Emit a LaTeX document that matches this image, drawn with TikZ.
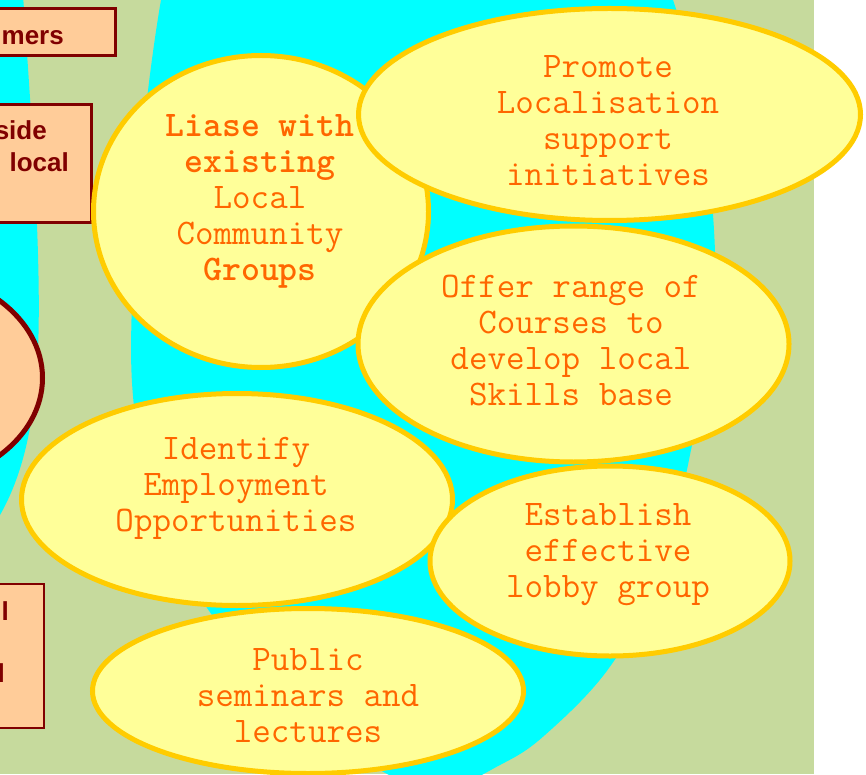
\documentclass[tikz,border=0pt]{standalone}
\usepackage{fontspec}
\usepackage{tikz}
\usepackage{xcolor}
\usetikzlibrary{shapes.geometric}
\setmainfont{Liberation Sans}
\definecolor{paleyellow}{HTML}{FFFF99}
\definecolor{goldline}{HTML}{FFCC00}
\definecolor{ideaorange}{HTML}{FF6600}
\definecolor{peach}{HTML}{FFCC99}
\definecolor{maroon}{HTML}{800000}
\definecolor{sage}{RGB}{198,218,157}
\definecolor{aqua}{HTML}{00FFFF}

\tikzset{
  idea/.style={ellipse, draw=goldline, fill=paleyellow, line width=5pt, inner sep=0pt},
  ideatext/.style={text=ideaorange, align=center, inner sep=0pt,
    font=\ttfamily\fontsize{36}{36}\selectfont},
  peachbox/.style={draw=maroon, fill=peach, inner sep=0pt},
  boxtext/.style={text=maroon, inner sep=0pt, anchor=base east,
    font=\bfseries\fontsize{26}{31}\selectfont},
}

\begin{document}
\begin{tikzpicture}[x=1pt, y=-1pt]
\useasboundingbox (0,0) rectangle (866,775);
\clip (0,0) rectangle (866,775);
\fill[white] (0,0) rectangle (866,775);
\fill[sage] (0,0) rectangle (814,774);

% cyan backdrops
\fill[aqua] plot[smooth cycle, tension=0.6] coordinates {
  (175,-60) (161,0) (147,99) (138,198) (132,300) (133,396) (150,500)
  (205,605) (290,705) (380,770) (440,790) (500,765) (545,735) (609,668)
  (660,575) (692,445) (712,320) (714,230) (700,110) (673,0) (640,-60) (420,-100)};
\fill[aqua] (-20,-20) -- (22,-20) .. controls (30,100) and (42,250) .. (38,350)
  .. controls (35,430) and (20,480) .. (0,515) -- (-20,515) -- cycle;

% shapes cut off at the left edge
\node[peachbox, line width=3pt, minimum width=145.5pt, minimum height=47pt] (farmers) at (42.75,32) {};
\node[peachbox, line width=3pt, minimum width=121.5pt, minimum height=118pt] (outside) at (30.75,163.5) {};
\node[peachbox, ellipse, line width=5pt, minimum width=281pt, minimum height=215pt] (hub) at (-98,378) {};
\node[peachbox, line width=2pt, minimum width=74pt, minimum height=144pt] (lower) at (7,656) {};

\node[boxtext] (farmers-t) at (64,45) {mers};
\node[boxtext] (outside-t1) at (47,140) {side};
\node[boxtext] (outside-t2) at (69,172) {local};
\node[boxtext] (lower-t1) at (9,620) {l};
\node[boxtext] (lower-t2) at (5,682) {l};

% ideas
\node[idea, minimum width=335pt, minimum height=312pt] (liase) at (261,211.5) {};
\node[ideatext] (liase-t) at (260,201) {\textbf{Liase with}\\\textbf{existing}\\Local\\Community\\\textbf{Groups}};

\node[idea, minimum width=502pt, minimum height=212pt] (promote) at (609.5,114.5) {};
\node[ideatext] (promote-t) at (608,121) {Promote\\Localisation\\support\\initiatives};

\node[idea, minimum width=431pt, minimum height=236pt] (offer) at (573.5,344) {};
\node[ideatext] (offer-t) at (571,341) {Offer range of\\Courses to\\develop local\\Skills base};

\node[idea, minimum width=431pt, minimum height=212pt] (identify) at (237,499.5) {};
\node[ideatext] (identify-t) at (236,488) {Identify\\Employment\\Opportunities};

\node[idea, minimum width=360pt, minimum height=190pt] (lobby) at (610,561) {};
\node[ideatext] (lobby-t) at (608,555) {Establish\\effective\\lobby group};

\node[idea, minimum width=431pt, minimum height=165pt] (public) at (308,691) {};
\node[ideatext] (public-t) at (308,696) {Public\\seminars and\\lectures};
\end{tikzpicture}
\end{document}
